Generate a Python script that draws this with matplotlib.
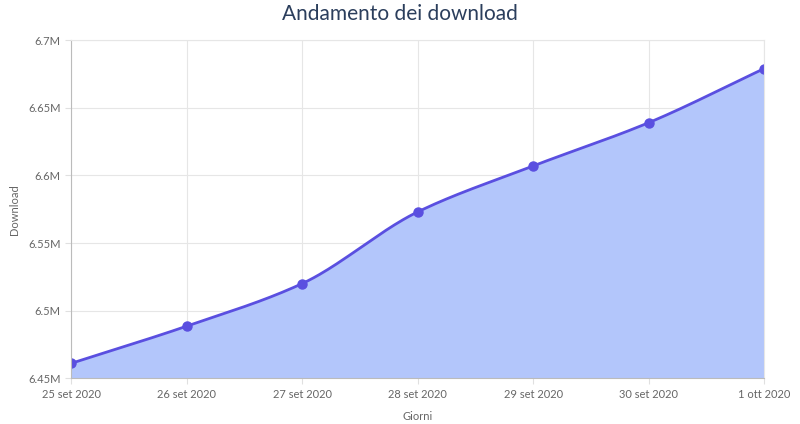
import numpy as np
import matplotlib
matplotlib.use("Agg")
import matplotlib.pyplot as plt
from matplotlib.ticker import FuncFormatter

days = ["25 set 2020", "26 set 2020", "27 set 2020", "28 set 2020",
        "29 set 2020", "30 set 2020", "1 ott 2020"]
downloads = [6.461e6, 6.4885e6, 6.520e6, 6.573e6, 6.607e6, 6.639e6, 6.679e6]


def monotone_curve(x, y, n=40):
    # Fritsch-Carlson monotone cubic, like chart.js "monotone"
    x = np.asarray(x, float); y = np.asarray(y, float)
    d = np.diff(y) / np.diff(x)
    m = np.empty_like(y)
    m[0], m[-1] = d[0], d[-1]
    for i in range(1, len(y) - 1):
        m[i] = 0 if d[i - 1] * d[i] <= 0 else 2 / (1 / d[i - 1] + 1 / d[i])
    xs, ys = [], []
    for i in range(len(x) - 1):
        h = x[i + 1] - x[i]
        t = np.linspace(0, 1, n, endpoint=False)
        h00 = 2*t**3 - 3*t**2 + 1; h10 = t**3 - 2*t**2 + t
        h01 = -2*t**3 + 3*t**2; h11 = t**3 - t**2
        xs.append(x[i] + t * h)
        ys.append(h00*y[i] + h10*h*m[i] + h01*y[i+1] + h11*h*m[i+1])
    xs.append([x[-1]]); ys.append([y[-1]])
    return np.concatenate(xs), np.concatenate(ys)


plt.rcParams['font.family'] = ['Lato', 'DejaVu Sans']
fig = plt.figure(figsize=(8, 4.24), dpi=100)
ax = fig.add_axes([0.089, 0.108, 0.866, 0.797])

xi = np.arange(len(days))
cx, cy = monotone_curve(xi, downloads)
ax.fill_between(cx, 6.45e6, cy, color="#b3c6fb", lw=0)
ax.plot(cx, cy, color="#5a4fe0", lw=2)
ax.plot(xi, downloads, "o", color="#5a4fe0", ms=6.5)

ax.set_xlim(0, len(days) - 1)
ax.set_ylim(6.45e6, 6.7e6)
ax.set_yticks(np.arange(6.45e6, 6.70001e6, 0.05e6))
ax.yaxis.set_major_formatter(FuncFormatter(lambda v, p: f"{v/1e6:g}M"))
ax.set_xticks(xi)
ax.set_xticklabels(days)
ax.tick_params(labelsize=8, colors="#666666", length=4, color="#e0e0e0")
ax.grid(True, color="#e6e6e6", lw=0.8)
ax.set_axisbelow(True)
for s in ax.spines.values():
    s.set_color("#e6e6e6")
ax.spines["left"].set_color("#bbbbbb")
ax.spines["bottom"].set_color("#bbbbbb")

ax.set_xlabel("Giorni", fontsize=8, color="#666666", labelpad=8)
ax.set_ylabel("Download", fontsize=8, color="#666666", labelpad=6)
fig.suptitle("Andamento dei download", fontsize=15, color="#2b3e5c", y=0.99)

fig.savefig("out.png")
